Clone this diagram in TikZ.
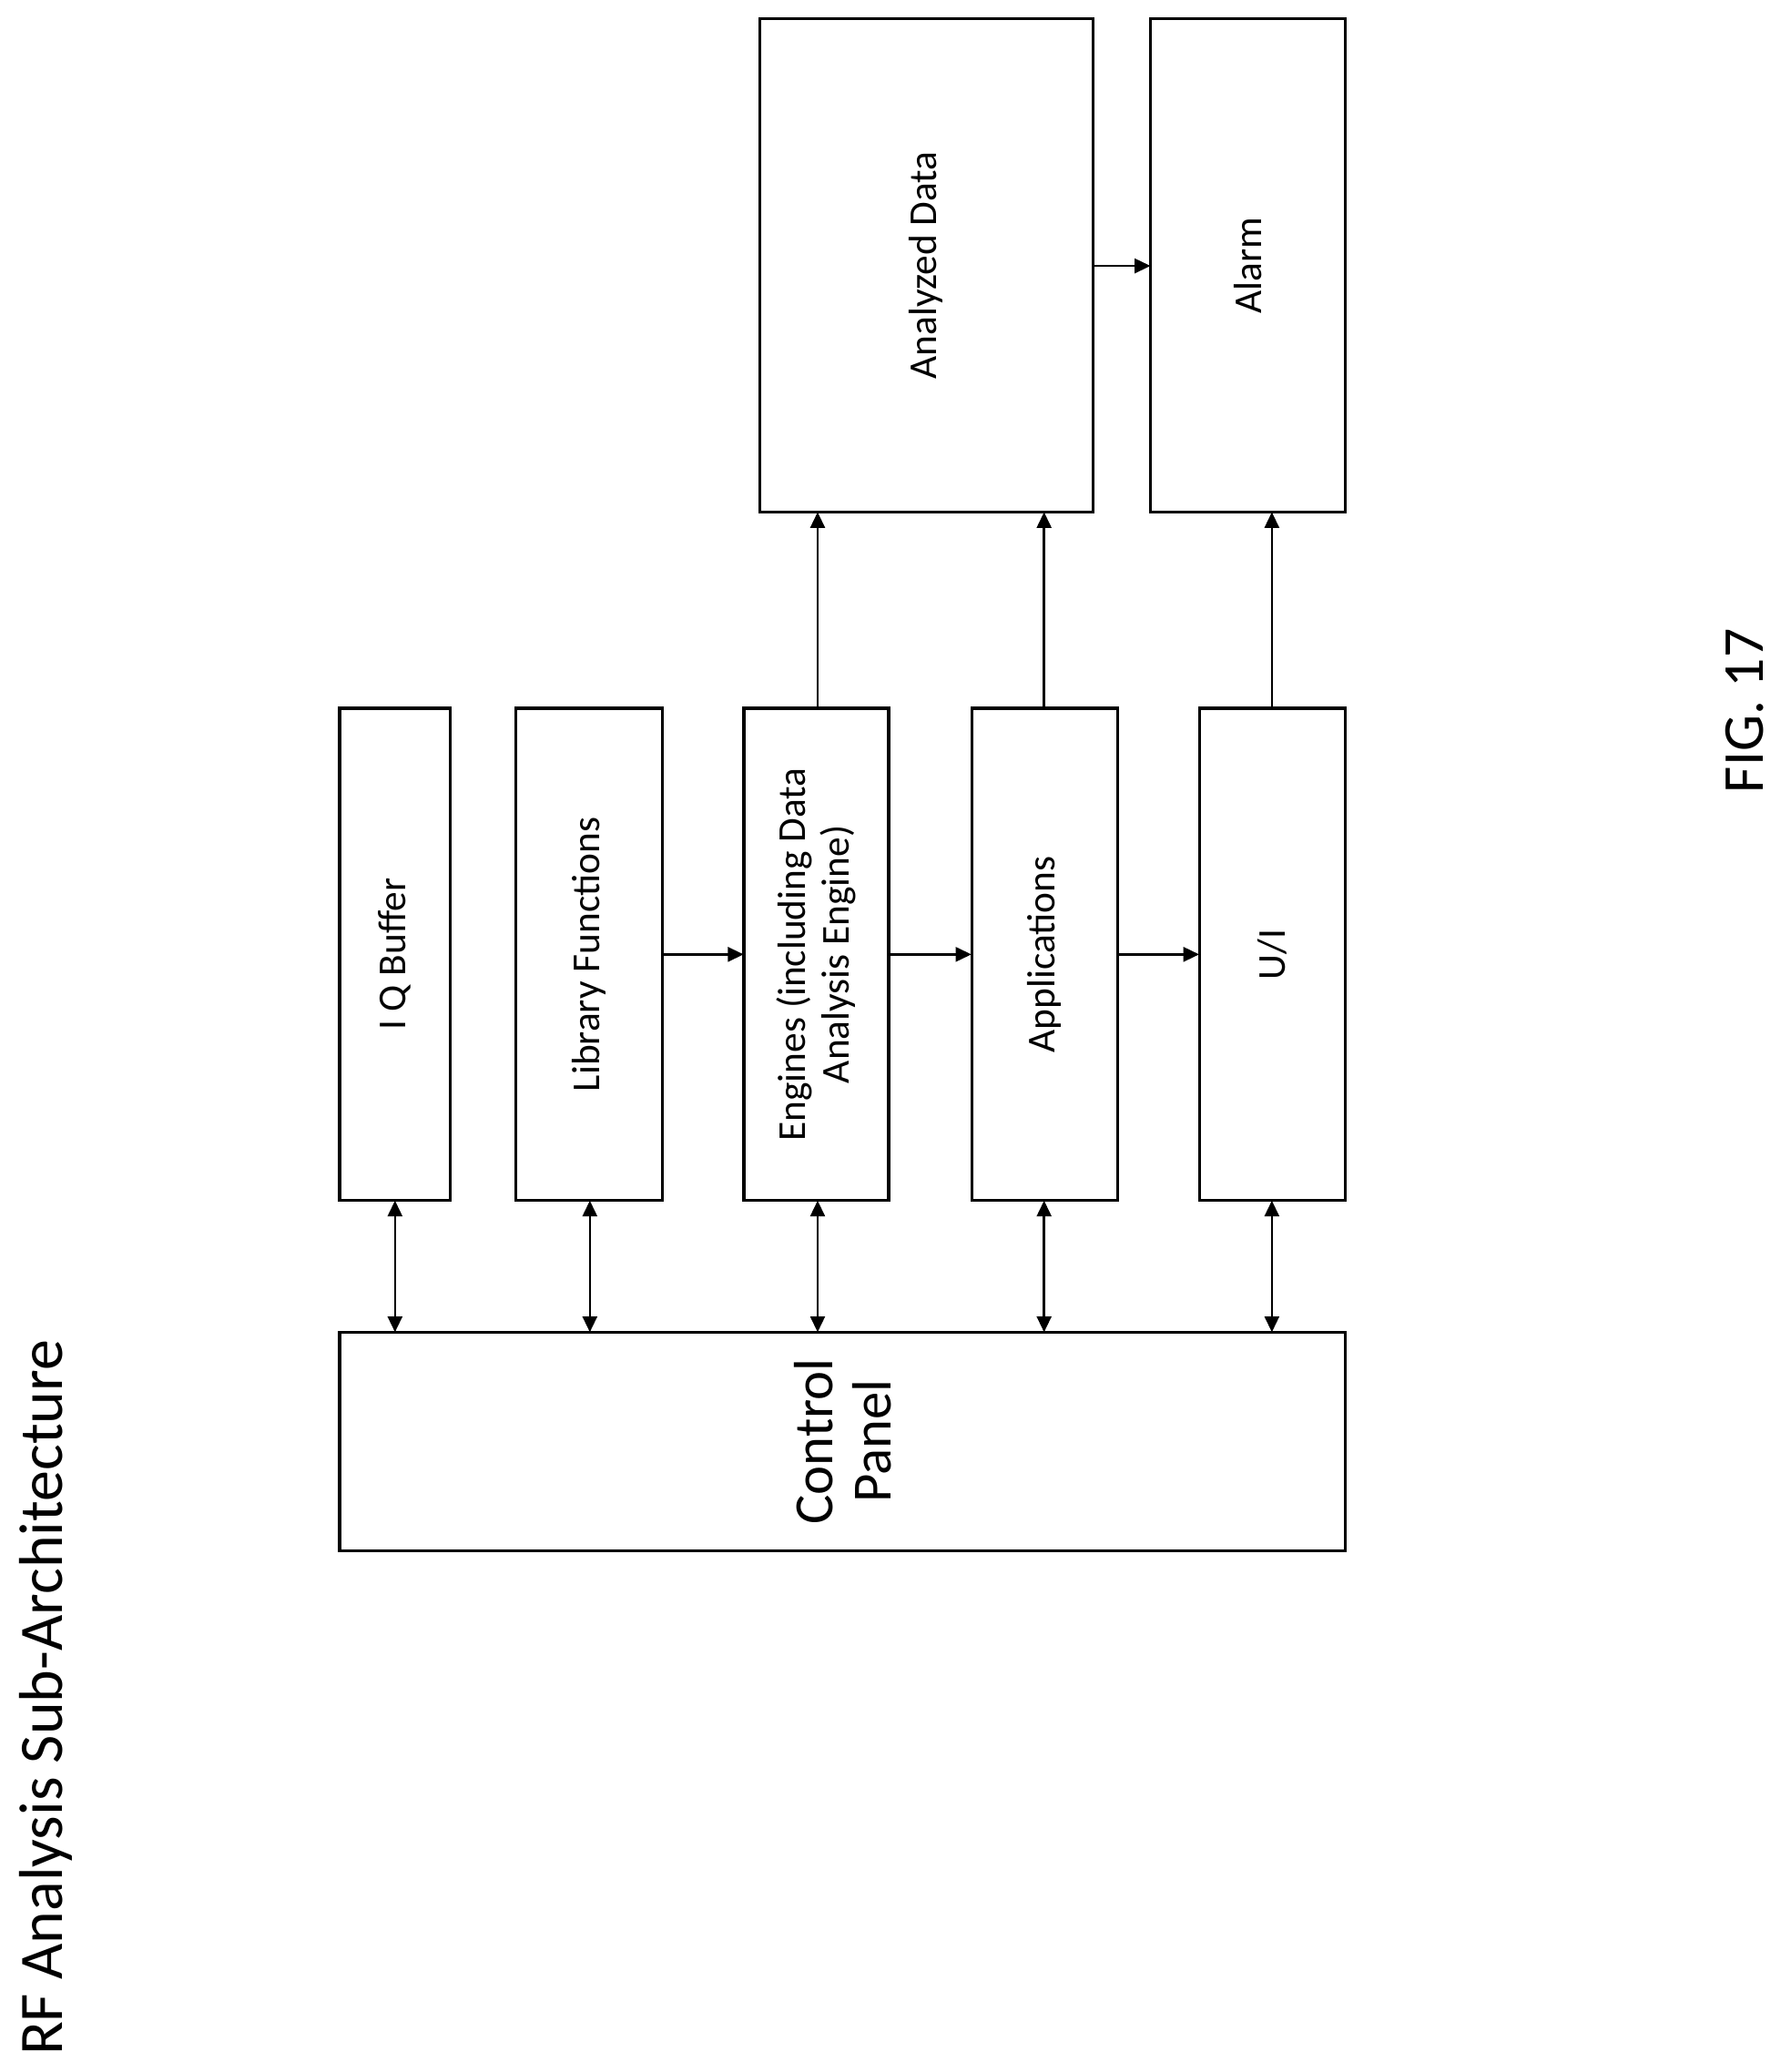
\documentclass[tikz,border=0pt]{standalone}
\usepackage{fontspec}
\setmainfont{Carlito}
\usetikzlibrary{arrows.meta}
\begin{document}
\begin{tikzpicture}[x=1pt,y=-1pt,
  box/.style={draw,line width=2.2pt,inner sep=0pt},
  lbl/.style={rotate=90,align=center,font=\fontsize{30}{33}\selectfont},
  ar/.style={line width=1.8pt,-{Triangle[length=12pt,width=11pt]}},
  dar/.style={line width=1.8pt,{Triangle[length=12pt,width=11pt]}-{Triangle[length=12pt,width=11pt]}}]
\useasboundingbox (0,0) rectangle (1360,1574);
\newcommand{\bx}[5]{\draw[box] (#2,#3) rectangle (#4,#5); \node[inner sep=0pt] (#1) at ({(#2+#4)/2},{(#3+#5)/2}) [minimum width={#4-#2}, minimum height={#5-#3}] {};}
\bx{iq}{258}{538}{342}{912}
\bx{lib}{392}{538}{503}{912}
\bx{eng}{565}{538}{675}{912}
\bx{app}{738}{538}{849}{912}
\bx{ui}{911}{538}{1022}{912}
\bx{cp}{258}{1012}{1022}{1178}
\bx{ad}{577}{14}{830}{389}
\bx{al}{874}{14}{1022}{389}
\node[lbl] at (iq) {I Q Buffer};
\node[lbl] at (lib) {Library Functions};
\node[lbl] at (eng) {Engines (including Data\\Analysis Engine)};
\node[lbl] at (app) {Applications};
\node[lbl] at (ui) {U/I};
\node[lbl,font=\fontsize{42}{44}\selectfont] at (cp) {Control\\Panel};
\node[lbl] at (ad) {Analyzed Data};
\node[lbl] at (al) {Alarm};
\foreach \n/\x in {iq/300,lib/448,eng/621,app/793,ui/966}
  \draw[dar] (\x,912) -- (\x,1012);
\foreach \a/\b in {lib/eng,eng/app,app/ui}
  \draw[ar] (\a.east |- 0,725) -- (\b.west |- 0,725);
\draw[ar] (621,538) -- (621,389);
\draw[ar] (793,538) -- (793,389);
\draw[ar] (966,538) -- (966,389);
\draw[ar] (ad.east |- 0,202) -- (al.west |- 0,202);
\node[rotate=90,anchor=west,font=\fontsize{47}{50}\selectfont] (title) at (35,1565) {RF Analysis Sub-Architecture};
\node[rotate=90,font=\fontsize{44}{48}\selectfont] (fig) at (1325,540) {FIG. 17};
\end{tikzpicture}
\end{document}
